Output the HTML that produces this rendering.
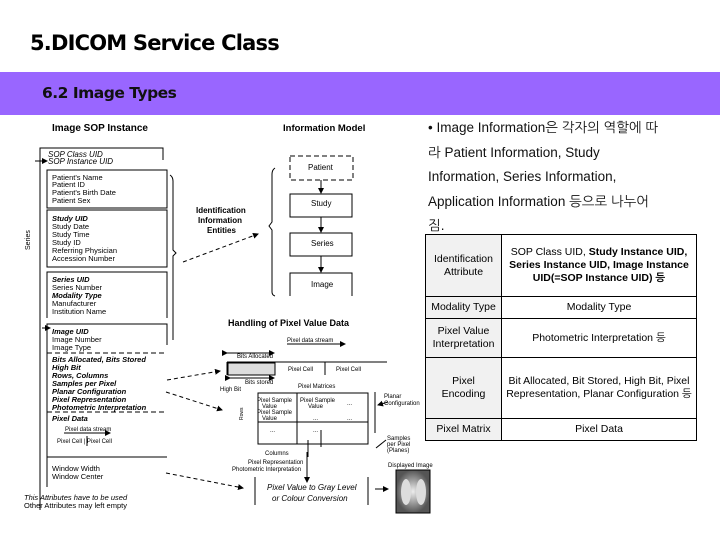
<!DOCTYPE html>
<html><head><meta charset="utf-8"><style>
body{margin:0;width:720px;height:540px;background:#fff;overflow:hidden;position:relative;font-family:"Liberation Sans","Noto Sans CJK KR",sans-serif}
.t1{position:absolute;left:30px;top:31px;font-size:21px;font-weight:bold;color:#000;font-family:"DejaVu Sans","Liberation Sans",sans-serif;letter-spacing:-0.8px}
.band{position:absolute;left:0;top:72px;width:720px;height:43px;background:#9966ff}
.t2{position:absolute;left:42px;top:84px;font-size:15.5px;font-weight:bold;color:#111;font-family:"DejaVu Sans","Liberation Sans",sans-serif;letter-spacing:-0.5px}
.bul{position:absolute;left:428px;top:116px;width:280px;font-size:13.5px;line-height:24.6px;color:#111;font-family:"Liberation Sans","NanumGothic",sans-serif}
table{position:absolute;left:425px;top:234px;width:272px;border-collapse:collapse;font-size:10.5px;font-family:"Liberation Sans","NanumGothic",sans-serif;table-layout:fixed}
td{border:1.5px solid #000;text-align:center;padding:0 2px;line-height:13px}
td.h{background:#f1f1f1;width:71px}
</style></head><body>
<div class="t1">5.DICOM Service Class</div>
<div class="band"></div>
<div class="t2">6.2 Image Types</div>
<div class="bul">• Image Information은 각자의 역할에 따<br>라 Patient Information, Study<br>Information, Series Information,<br>Application Information 등으로 나누어<br>짐.</div>
<table>
<tr style="height:62px"><td class="h">Identification Attribute</td><td>SOP Class UID, <b>Study Instance UID, Series Instance UID, Image Instance UID(=SOP Instance UID) 등</b></td></tr>
<tr style="height:22px"><td class="h">Modality Type</td><td>Modality Type</td></tr>
<tr style="height:39px"><td class="h">Pixel Value Interpretation</td><td>Photometric Interpretation 등</td></tr>
<tr style="height:61px"><td class="h">Pixel<br>Encoding</td><td>Bit Allocated, Bit Stored, High Bit, Pixel Representation, Planar Configuration 등</td></tr>
<tr style="height:22px"><td class="h">Pixel Matrix</td><td>Pixel Data</td></tr>
</table>
<svg style="position:absolute;left:0;top:0" width="720" height="540" font-family="Liberation Sans,sans-serif" fill="none" stroke="#000">
<defs><marker id="a" markerWidth="6" markerHeight="6" refX="5" refY="3" orient="auto"><path d="M0 0L6 3L0 6z" fill="#000" stroke="none"/></marker>
<radialGradient id="g"><stop offset="0" stop-color="#eee"/><stop offset="1" stop-color="#555"/></radialGradient></defs>
<g fill="#000" stroke="none" font-size="9">
<text x="52" y="131" font-weight="bold" font-size="10">Image SOP Instance</text>
<text x="283" y="131" font-weight="bold" font-size="9.5">Information Model</text>
<g font-style="italic" font-size="8"><text x="48" y="157">SOP Class UID</text><text x="48" y="164">SOP Instance UID</text></g>
<g font-size="7.5"><text x="52" y="180">Patient's Name</text><text x="52" y="187">Patient ID</text><text x="52" y="195">Patient's Birth Date</text><text x="52" y="203">Patient Sex</text>
<text x="52" y="221" font-style="italic" font-weight="bold">Study UID</text><text x="52" y="229">Study Date</text><text x="52" y="237">Study Time</text><text x="52" y="245">Study ID</text><text x="52" y="253">Referring Physician</text><text x="52" y="261">Accession Number</text>
<text x="52" y="282" font-style="italic" font-weight="bold">Series UID</text><text x="52" y="290">Series Number</text><text x="52" y="298" font-style="italic" font-weight="bold">Modality Type</text><text x="52" y="306">Manufacturer</text><text x="52" y="314">Institution Name</text>
<text x="52" y="334" font-style="italic" font-weight="bold">Image UID</text><text x="52" y="342">Image Number</text><text x="52" y="350">Image Type</text>
<g font-style="italic" font-weight="bold"><text x="52" y="362">Bits Allocated, Bits Stored</text><text x="52" y="370">High Bit</text><text x="52" y="378">Rows, Columns</text><text x="52" y="386">Samples per Pixel</text><text x="52" y="394">Planar Configuration</text><text x="52" y="402">Pixel Representation</text><text x="52" y="410">Photometric Interpretation</text><text x="52" y="421">Pixel Data</text></g>
<text x="52" y="471">Window Width</text><text x="52" y="479">Window Center</text>
<text x="24" y="500" font-style="italic">This Attributes have to be used</text><text x="24" y="508">Other Attributes may left empty</text></g>
<g font-size="6"><text x="65" y="431">Pixel data stream</text><text x="57" y="443">Pixel Cell | Pixel Cell</text></g>
<g font-size="8" font-weight="bold"><text x="196" y="213">Identification</text><text x="198" y="223">Information</text><text x="207" y="233">Entities</text></g>
<text x="30" y="250" font-size="7" transform="rotate(-90 30 250)">Series</text>
<g font-size="8"><text x="308" y="170">Patient</text><text x="311" y="206">Study</text><text x="311" y="246">Series</text><text x="311" y="287">Image</text></g>
<text x="228" y="326" font-size="9" font-weight="bold">Handling of Pixel Value Data</text>
<g font-size="6"><text x="287" y="342">Pixel data stream</text><text x="237" y="358">Bits Allocated</text><text x="236" y="371">Pixel Cell</text><text x="288" y="371">Pixel Cell</text><text x="336" y="371">Pixel Cell</text><text x="220" y="391">High Bit</text><text x="245" y="384">Bits stored</text><text x="298" y="388">Pixel Matrices</text>
<text x="257" y="402">Pixel Sample</text><text x="262" y="408">Value</text><text x="257" y="414">Pixel Sample</text><text x="262" y="420">Value</text><text x="300" y="402">Pixel Sample</text><text x="308" y="408">Value</text><text x="347" y="405">...</text><text x="313" y="420">...</text><text x="347" y="420">...</text><text x="270" y="432">...</text><text x="313" y="432">...</text>
<text x="384" y="398">Planar</text><text x="384" y="405">Configuration</text><text x="387" y="440">Samples</text><text x="387" y="446">per Pixel</text><text x="387" y="452">(Planes)</text>
<text x="265" y="455">Columns</text><text x="248" y="464">Pixel Representation</text><text x="232" y="471">Photometric Interpretation</text><text x="388" y="467">Displayed Image</text></g>
<g font-size="8" font-style="italic"><text x="267" y="490">Pixel Value to Gray Level</text><text x="272" y="501">or Colour Conversion</text></g>
<text x="243" y="420" font-size="5" transform="rotate(-90 243 420)">Rows</text>
</g>
<g stroke-width="1">
<path d="M40 510V148H163V160"/><path d="M35 161H47" marker-end="url(#a)"/><rect x="47" y="170" width="120" height="38"/><rect x="47" y="210" width="120" height="57"/><path d="M47 318V272H167V318"/>
<path d="M47 487V324H167V345M47 457H167"/><path d="M42 328H50" marker-end="url(#a)"/><path d="M47 353H167M47 412H167" stroke-dasharray="5 3"/>
<path d="M64 433H110" marker-end="url(#a)"/><path d="M87 436V446"/>
<path d="M170 175q3 2 3 6V250l3 3-3 3V340"/>
<path d="M275 168q-3 2-3 6V222l-3 4 3 4V292q0 3 3 4"/>
<rect x="290" y="156" width="63" height="24" stroke-dasharray="5 3"/><rect x="290" y="194" width="62" height="23"/><rect x="290" y="233" width="62" height="23"/><path d="M290 296V273H352V296"/>
<path d="M321 180V193" marker-end="url(#a)"/><path d="M321 217V232" marker-end="url(#a)"/><path d="M321 256V272" marker-end="url(#a)"/>
<g stroke-dasharray="4 3" marker-end="url(#a)"><path d="M183 262L258 234"/><path d="M167 380L220 371"/><path d="M166 392L222 410"/><path d="M166 473L243 488"/></g>
<path d="M227 362H387M227 362V375M275 362V375M325 362V375"/>
<path d="M227 353H274" marker-start="url(#a)" marker-end="url(#a)"/><path d="M287 344H345" marker-end="url(#a)"/>
<rect x="228" y="363" width="47" height="12" fill="#ddd"/>
<rect x="258" y="393" width="110" height="51"/><path d="M258 422H368M297 393V444M375 392V433"/>
<path d="M230 378H274" marker-start="url(#a)" marker-end="url(#a)"/><path d="M321 430V447"/>
<path d="M255 477V505M368 477V505M308 440V457"/><path d="M307 452V482" marker-end="url(#a)"/>
<path d="M375 489H388" marker-end="url(#a)"/><path d="M388 402L378 405" marker-end="url(#a)"/><path d="M386 440L376 448"/>
</g>
<rect x="396" y="470" width="34" height="43" fill="url(#g)" stroke="#000"/>
<ellipse cx="406" cy="492" rx="5" ry="13" fill="#ddd" stroke="none"/><ellipse cx="421" cy="492" rx="5" ry="13" fill="#ddd" stroke="none"/>
</svg>
</body></html>
